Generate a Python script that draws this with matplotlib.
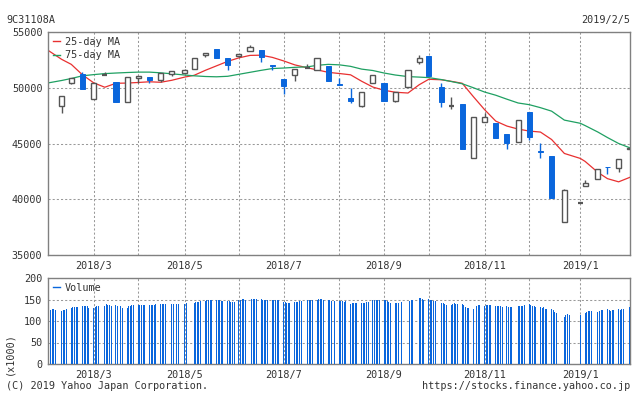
import matplotlib
matplotlib.use("Agg")
import matplotlib.pyplot as plt
import matplotlib.dates as mdates
from matplotlib.lines import Line2D
import pandas as pd

plt.rcParams['font.family'] = ['DejaVu Sans Mono']

# weekly candles (first trading day of each week)
week_dates = ["2018-02-13", "2018-02-19", "2018-02-26", "2018-03-05", "2018-03-12", "2018-03-19",
              "2018-03-26", "2018-04-02", "2018-04-09", "2018-04-16", "2018-04-23", "2018-05-01",
              "2018-05-07", "2018-05-14", "2018-05-21", "2018-05-28", "2018-06-04", "2018-06-11",
              "2018-06-18", "2018-06-25", "2018-07-02", "2018-07-09", "2018-07-17", "2018-07-23",
              "2018-07-30", "2018-08-06", "2018-08-13", "2018-08-20", "2018-08-27", "2018-09-03",
              "2018-09-10", "2018-09-18", "2018-09-25", "2018-10-01", "2018-10-09", "2018-10-15",
              "2018-10-22", "2018-10-29", "2018-11-05", "2018-11-12", "2018-11-19", "2018-11-26",
              "2018-12-03", "2018-12-10", "2018-12-17", "2018-12-25", "2019-01-04", "2019-01-07",
              "2019-01-15", "2019-01-21", "2019-01-28", "2019-02-04"]
opens = [48392, 50446, 51276, 48990, 51110, 50535, 48704, 50892, 50982, 50669, 51276, 51294,
         51669, 52902, 53464, 52660, 52839, 53285, 53393, 52053, 50803, 51133, 51790, 51562,
         51982, 50356, 49106, 48330, 50419, 50446, 48812, 50062, 52276, 52857, 50089, 48321,
         48570, 43686, 46936, 46874, 45891, 45177, 47856, 44284, 43838, 37944, 39685, 41221,
         41846, 42918, 42829, 44463]
highs = [49258, 50892, 51428, 50419, 51370, 50535, 50955, 51050, 50982, 51312, 51490, 51670,
         52651, 53098, 53464, 52660, 53035, 53839, 53393, 52053, 50803, 51669, 52142, 52651,
         51982, 50830, 50000, 49615, 51133, 50446, 49615, 51562, 52946, 52857, 50383, 49196,
         48570, 47410, 47704, 46874, 45891, 47116, 47856, 45062, 43838, 40919, 39685, 41695,
         42739, 42918, 43633, 44580]
lows = [47704, 50356, 49847, 48990, 51100, 48704, 48704, 50446, 50446, 50500, 51098, 51294,
        51669, 52741, 52634, 51562, 52750, 53285, 52348, 51562, 49401, 50562, 51760, 51562,
        50580, 50222, 48597, 48240, 50419, 48776, 48750, 50062, 52098, 51098, 48240, 48080,
        44490, 43686, 46936, 45472, 44490, 45177, 45294, 43686, 40114, 37944, 39685, 41221,
        41846, 42230, 42435, 44463]
closes = [49258, 50848, 49847, 50419, 51110, 48704, 50955, 51026, 50651, 51312, 51490, 51580,
          52651, 53098, 52634, 52053, 53035, 53660, 52794, 51919, 50133, 51669, 51790, 52651,
          50580, 50222, 48776, 49615, 51133, 48776, 49615, 51562, 52634, 51098, 48687, 48321,
          44490, 47410, 47383, 45472, 45026, 47116, 45562, 44222, 40114, 40802, 39685, 41489,
          42739, 42870, 43633, 44580]

# moving averages sampled at the chart start and at each candle
ma_dates = ["2018-02-05"] + week_dates
ma25 = [53304, 52545, 52098, 51161, 50446, 50045, 50402, 50420, 50473, 50536, 50491, 50670,
        50955, 51116, 51562, 51964, 52366, 52679, 52902, 52920, 52723, 52411, 52054, 51786,
        51607, 51384, 51277, 51161, 50580, 50062, 49776, 49598, 49527, 50268, 50759, 50714,
        50580, 50402, 49196, 48036, 47009, 46563, 46294, 46116, 46027, 45357, 44107, 43661,
        43393, 42411, 41848, 41562, 41964]
ma75 = [50446, 50652, 50830, 51071, 51178, 51268, 51321, 51366, 51402, 51402, 51339, 51250,
        51143, 51071, 51009, 50982, 51027, 51205, 51384, 51562, 51723, 51768, 51830, 51875,
        52009, 52098, 52054, 51920, 51670, 51545, 51321, 51143, 51000, 50955, 50910, 50732,
        50562, 50357, 50000, 49616, 49330, 48973, 48634, 48482, 48214, 47901, 47098, 46812,
        46607, 46027, 45535, 45000, 44616]

# daily volume (x1000), one list per week
volume_weeks = [
    [126, 128, 128, 126], [124, 125, 126, 127], [131, 132, 133, 133, 133],
    [134, 135, 135, 134, 131], [131, 133, 134, 135, 135], [136, 139, 138, 138, 136],
    [137, 136, 135, 131], [131, 135, 136, 137, 138], [138, 138, 138, 138, 138],
    [138, 138, 138, 138, 139], [139, 140, 139, 140, 140], [139, 140, 140, 140, 140],
    [140, 143], [143, 144, 144, 145, 146], [146, 148, 149, 149, 150],
    [150, 149, 148, 147, 147], [147, 146, 144, 145, 145], [149, 150, 151, 151, 150],
    [152, 152, 152, 151, 151], [151, 150, 150, 149, 148], [149, 149, 149, 149, 149],
    [145, 144, 143, 142, 141], [144, 145, 145, 146, 146], [150, 150, 150, 149],
    [150, 151, 152, 152, 150], [149, 148, 146, 146, 146], [146, 146, 147, 145, 147],
    [140, 143, 142, 142, 142], [141, 142, 143, 144, 144], [148, 149, 149, 150, 150],
    [149, 148, 147, 145, 143], [141, 143, 142, 143, 144], [147, 147, 148, 150],
    [154, 153, 151, 149], [152, 150, 149, 147, 146], [143, 141, 139, 138],
    [138, 139, 141, 140, 140], [140, 138, 133, 130, 130], [128, 131, 135, 138, 138],
    [136, 137, 138, 138, 138], [136, 136, 136, 134, 132], [135, 133, 132, 132],
    [134, 134, 134, 135, 138], [140, 138, 136, 134, 133], [132, 130, 132, 128, 127],
    [128, 125, 122, 119, 119], [110, 113, 116, 114], [115],
    [119, 121, 123, 123, 124], [122, 124, 125, 126], [127, 125, 124, 125, 126],
    [127, 126, 127, 128, 130], [132],
]
holidays = ["2018-02-12", "2018-03-21", "2018-04-30", "2018-05-03", "2018-05-04", "2018-07-16",
            "2018-09-17", "2018-09-24", "2018-10-08", "2018-11-23", "2018-12-24", "2018-12-31",
            "2019-01-01", "2019-01-02", "2019-01-03", "2019-01-14"]

BLUE = '#0a66dc'
GRAY = '#555555'
TXT = '#333333'

days = pd.bdate_range("2018-02-06", "2019-02-04")
days = days[~days.isin(pd.to_datetime(holidays))]
week_key = days - pd.to_timedelta(days.weekday, unit='D')
vol_x, vol_y = [], []
for wk, vals in zip(sorted(set(week_key)), volume_weeks):
    for d, v in zip(days[week_key == wk], vals):
        vol_x.append(mdates.date2num(d))
        vol_y.append(v)

wx = mdates.date2num(pd.to_datetime(week_dates))
mx = mdates.date2num(pd.to_datetime(ma_dates))

fig = plt.figure(figsize=(6.34, 3.94), dpi=100)
ax = fig.add_axes([48 / 634, 1 - 255 / 394, 582 / 634, 223 / 394])
axv = fig.add_axes([48 / 634, 1 - 364 / 394, 582 / 634, 86 / 394])

# candles
w = 3.2
for x, o, h, l, c in zip(wx, opens, highs, lows, closes):
    if c < o:
        ax.vlines(x, l, h, color=BLUE, lw=1.0, zorder=3)
        ax.bar(x, o - c, bottom=c, width=w, color=BLUE, edgecolor=BLUE, lw=0.7, zorder=4)
    elif c > o:
        ax.vlines(x, l, h, color=GRAY, lw=1.0, zorder=3)
        ax.bar(x, c - o, bottom=o, width=w, facecolor='white', edgecolor=GRAY, lw=1.0, zorder=4)
    else:
        ax.vlines(x, l, h, color=GRAY, lw=1.0, zorder=3)
        ax.hlines(o, x - w / 2, x + w / 2, color=GRAY, lw=1.6, zorder=4)

ax.plot(mx, ma25, color='#e83030', lw=0.9, zorder=2)
ax.plot(mx, ma75, color='#1fa062', lw=0.9, zorder=2)

axv.bar(vol_x, vol_y, width=0.6, color=BLUE, zorder=3)

# month grid lines: first candle of each month
wd = pd.to_datetime(week_dates)
firsts = pd.Series(wd).groupby(wd.to_period('M')).min()
firsts = firsts[(firsts > pd.Timestamp("2018-02-28")) & (firsts < pd.Timestamp("2019-02-01"))]
tick_x = mdates.date2num(firsts)
tick_lab = [f"{d.year}/{d.month}" if d.month % 2 == 1 else "" for d in firsts]

x0 = mdates.date2num(pd.Timestamp("2018-02-04 10:00"))
x1 = mdates.date2num(pd.Timestamp("2019-02-04 03:00"))

for a in (ax, axv):
    a.set_xlim(x0, x1)
    a.set_xticks(tick_x)
    a.set_xticklabels(tick_lab)
    a.grid(True, color='#999999', lw=0.75, linestyle=(0, (2, 2)))
    a.tick_params(length=0, labelsize=7.3, labelcolor=TXT, pad=4)
    for s in a.spines.values():
        s.set_color('#808080')
        s.set_linewidth(1.0)

ax.set_ylim(35000, 55000)
ax.set_yticks([35000, 40000, 45000, 50000, 55000])
axv.set_ylim(0, 200)
axv.set_yticks([0, 50, 100, 150, 200])

leg = ax.legend(handles=[Line2D([], [], color='#e83030', lw=1),
                         Line2D([], [], color='#1fa062', lw=1)],
                labels=['25-day MA', '75-day MA'], loc='upper left', frameon=False,
                fontsize=7.3, handlelength=0.7, handletextpad=0.5, labelspacing=0.35,
                borderaxespad=0.25, borderpad=0.2)
for t in leg.get_texts():
    t.set_color(TXT)
legv = axv.legend(handles=[Line2D([], [], color=BLUE, lw=1)], labels=['Volume'],
                  loc='upper left', frameon=False, fontsize=7.3, handlelength=0.7,
                  handletextpad=0.5, borderaxespad=0.25, borderpad=0.2)
legv.get_texts()[0].set_color(TXT)

fig.text(6 / 634, 1 - 20 / 394, "9C31108A", fontsize=7.3, color=TXT, va='center')
fig.text(630 / 634, 1 - 20 / 394, "2019/2/5", fontsize=7.3, color=TXT, va='center', ha='right')
fig.text(9 / 634, 1 - 354 / 394, "(x1000)", fontsize=7.3, color=TXT, va='center', ha='center',
         rotation=90)
fig.text(6 / 634, 1 - 386 / 394, "(C) 2019 Yahoo Japan Corporation.", fontsize=7.3, color=TXT,
         va='center')
fig.text(630 / 634, 1 - 386 / 394, "https://stocks.finance.yahoo.co.jp", fontsize=7.3, color=TXT,
         va='center', ha='right')

fig.savefig("out.png", dpi=100)
